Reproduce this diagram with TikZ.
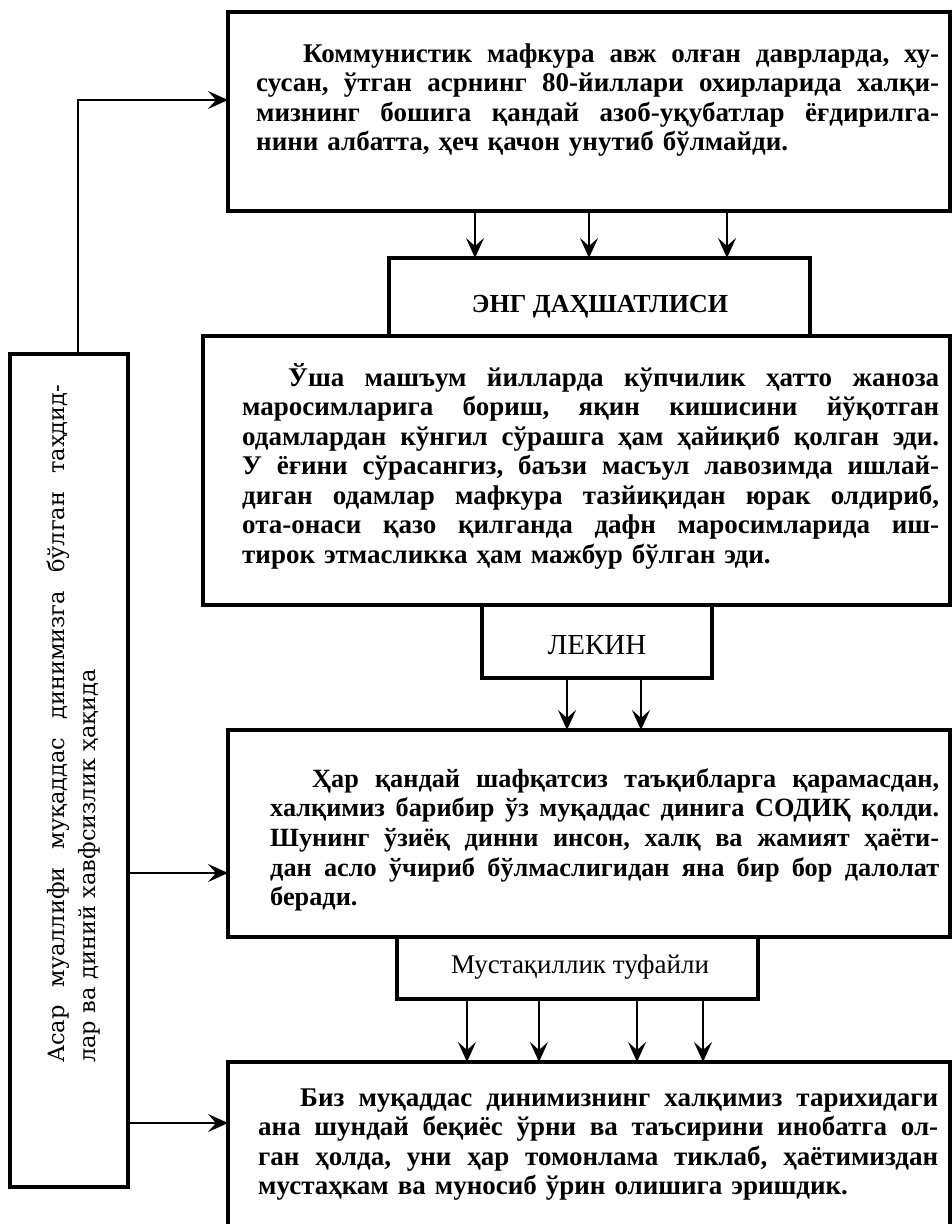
\documentclass[tikz,border=0pt]{standalone}
\usepackage{fontspec}
\setmainfont{Liberation Serif}
\newfontfamily\sidefont{DejaVu Serif}
\usetikzlibrary{arrows.meta}
\newcommand\jl[2]{\leavevmode\hbox to #1{\frenchspacing\spaceskip=.25em plus 1fil minus .08em\xspaceskip=.25em plus 1fil minus .08em\relax #2}}
\begin{document}
\begin{tikzpicture}[x=1pt,y=-1pt,
  box/.style={draw, line width=3.4pt, inner sep=0pt, outer sep=0pt},
  conn/.style={line width=2.5pt, -{Stealth[length=20pt,width=18pt,inset=8pt]}},
  body/.style={inner sep=0pt, align=left, anchor=base west,
    font=\bfseries\fontsize{27}{29.5}\selectfont},
  label/.style={inner sep=0pt, anchor=base}]
\useasboundingbox (0,0) rectangle (952,1224);
% boxes
\node[box, minimum width=722pt, minimum height=199pt] (b1) at (589,111.5) {};
\node[box, minimum width=421pt, minimum height=78pt] (eng) at (599.5,297) {};
\node[box, minimum width=747pt, minimum height=269pt] (b2) at (576.5,470.5) {};
\node[box, minimum width=230pt, minimum height=73pt] (lek) at (597,641.5) {};
\node[box, minimum width=722pt, minimum height=207pt] (b3) at (589,833.5) {};
\node[box, minimum width=361pt, minimum height=62pt] (must) at (577.5,968) {};
\node[box, minimum width=722pt, minimum height=178pt] (b4) at (589,1151) {};
\node[box, minimum width=118pt, minimum height=833pt] (lb) at (69,770.5) {};
% texts
\node[body, text width=683pt] (t1) at (256,62) {%
\jl{683pt}{\hspace*{47pt}Коммунистик мафкура авж олған даврларда, ху-}\\
\jl{683pt}{сусан, ўтган асрнинг 80-йиллари охирларида халқи-}\\
\jl{683pt}{мизнинг бошига қандай азоб-уқубатлар ёғдирилга-}\\
нини албатта, ҳеч қачон унутиб бўлмайди.};
\node[label, font=\bfseries\fontsize{26}{30}\selectfont] (engt) at (600,312) {ЭНГ ДАҲШАТЛИСИ};
\node[body, text width=697pt] (t2) at (242,386) {%
\jl{697pt}{\hspace*{46pt}Ўша машъум йилларда кўпчилик ҳатто жаноза}\\
\jl{697pt}{маросимларига бориш, яқин кишисини йўқотган}\\
\jl{697pt}{одамлардан кўнгил сўрашга ҳам ҳайиқиб қолган эди.}\\
\jl{697pt}{У ёғини сўрасангиз, баъзи масъул лавозимда ишлай-}\\
\jl{697pt}{диган одамлар мафкура тазйиқидан юрак олдириб,}\\
\jl{697pt}{ота-онаси қазо қилганда дафн маросимларида иш-}\\
тирок этмасликка ҳам мажбур бўлган эди.};
\node[label, font=\fontsize{29}{32}\selectfont] (lekt) at (597,654) {ЛЕКИН};
\node[body, text width=669pt, font=\bfseries\fontsize{26.3}{29.7}\selectfont] (t3) at (270,787) {%
\jl{669pt}{\hspace*{42pt}Ҳар қандай шафқатсиз таъқибларга қарамасдан,}\\
\jl{669pt}{халқимиз барибир ўз муқаддас динига СОДИҚ қолди.}\\
\jl{669pt}{Шунинг ўзиёқ динни инсон, халқ ва жамият ҳаёти-}\\
\jl{669pt}{дан асло ўчириб бўлмаслигидан яна бир бор далолат}\\
беради.};
\node[label, font=\fontsize{27}{30}\selectfont] (mustt) at (580,973) {Мустақиллик туфайли};
\node[body, text width=680pt] (t4) at (258,1106) {%
\jl{680pt}{\hspace*{42pt}Биз муқаддас динимизнинг халқимиз тарихидаги}\\
\jl{680pt}{ана шундай беқиёс ўрни ва таъсирини инобатга ол-}\\
\jl{680pt}{ган ҳолда, уни ҳар томонлама тиклаб, ҳаётимиздан}\\
мустаҳкам ва муносиб ўрин олишига эришдик.};
\node[inner sep=0pt, rotate=90, anchor=base west, text width=678pt, align=left,
  font=\sidefont\fontsize{22.5}{31}\selectfont] (lt) at (64,1063) {%
\jl{678pt}{Асар муаллифи муқаддас динимизга бўлган таҳдид-}\\
лар ва диний хавфсизлик ҳақида};
% helper coordinates
\coordinate (x78) at (78,0);
\coordinate (y100) at (0,100);
\coordinate (y873) at (0,873);
\coordinate (y1123) at (0,1123);
\coordinate (a1) at (475,0);
\coordinate (a2) at (589,0);
\coordinate (a3) at (727,0);
\coordinate (l1) at (567,0);
\coordinate (l2) at (641,0);
\coordinate (m1) at (467,0);
\coordinate (m2) at (539,0);
\coordinate (m3) at (637,0);
\coordinate (m4) at (703,0);
% connectors
\draw[conn] (lb.north -| x78) |- (b1.west |- y100);
\draw[conn] (lb.east |- y873) -- (b3.west |- y873);
\draw[conn] (lb.east |- y1123) -- (b4.west |- y1123);
\foreach \c in {a1,a2,a3} \draw[conn] (b1.south -| \c) -- (eng.north -| \c);
\foreach \c in {l1,l2} \draw[conn] (lek.south -| \c) -- (b3.north -| \c);
\foreach \c in {m1,m2,m3,m4} \draw[conn] (must.south -| \c) -- (b4.north -| \c);
\end{tikzpicture}
\end{document}
